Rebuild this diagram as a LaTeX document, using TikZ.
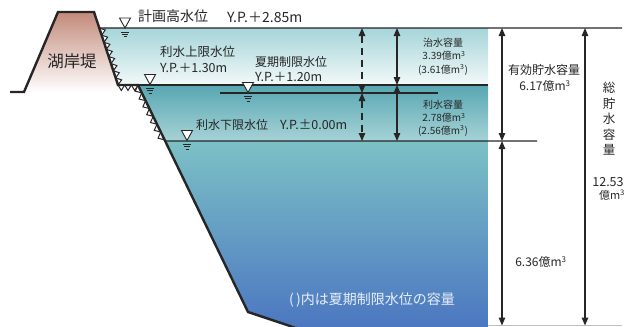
\documentclass[tikz,border=0pt]{standalone}
\usepackage{fontspec}
\setmainfont{Noto Sans CJK JP}
\usetikzlibrary{arrows.meta,calc}
\definecolor{ink}{HTML}{262626}
\definecolor{leveetop}{HTML}{C28A7A}
\definecolor{floodtop}{HTML}{A5D5D9}
\definecolor{floodbot}{HTML}{F3F9F9}
\definecolor{usetop}{HTML}{58A7B2}
\definecolor{usebot}{HTML}{A6D3D7}
\definecolor{deadtop}{HTML}{7CC1C6}
\definecolor{deadbot}{HTML}{4C77C1}
\definecolor{notecol}{HTML}{E8EEF7}
\newcommand\jfs[1]{\fontsize{#1}{#1}\selectfont}
\newcommand\oku{億m\textsuperscript{3}}
\tikzset{
  outline/.style={draw=ink, line width=2.4pt, line join=miter},
  riprap/.style={draw=ink, fill=white, line width=1pt, line join=miter},
  lvl/.style={draw=ink, line width=1.1pt},
  tip/.tip={Triangle[width=6.5pt,length=8pt]},
  dim/.style={draw=ink, line width=1.3pt, tip-tip},
  dimdash/.style={dim, dash pattern=on 7pt off 5pt},
  lbl/.style={text=ink, inner sep=0pt},
  wl/.pic={
    \draw[ink, line width=0.9pt, fill=white] (-5.5,-10) -- (5.5,-10) -- (0,0) -- cycle;
    \draw[ink, line width=0.9pt] (-4,4) -- (4,4) (-2.8,6.3) -- (2.8,6.3) (-1.5,8.5) -- (1.5,8.5);
  }
}
\begin{document}
\begin{tikzpicture}[x=1pt,y=-1pt]
\useasboundingbox (0,0) rectangle (633,327);

% key points of the bank profile
\coordinate (b0) at (10,92);
\coordinate (b1) at (24,92);
\coordinate (b2) at (58,12);
\coordinate (s1) at (94,12);
\coordinate (s2) at (118,85);
\coordinate (s3) at (138,85);
\coordinate (s4) at (248,312);
\coordinate (s5) at (302,330);

% reservoir zones
\shade[top color=floodtop, bottom color=floodbot]
  ($(s1)!0.219!(s2)$) -- (488,28) -- (488,85) -- (s2) -- cycle;
\shade[top color=usetop, bottom color=usebot]
  (s3) -- (488,85) -- (488,141) -- ($(s3)!0.2467!(s4)$) -- cycle;
\shade[top color=deadtop, bottom color=deadbot]
  ($(s3)!0.2467!(s4)$) -- (488,141) -- (488,327) -- (297,327) -- (s4) -- cycle;

% lakeside levee
\shade[top color=leveetop, bottom color=white]
  (b1) -- (b2) -- (s1) -- ($(s1)!1.1!(s2)$) -- cycle;

% riprap along the slope
\foreach \i in {0,...,7}{
  \pgfmathsetmacro\ta{0.22+\i*0.0975}
  \pgfmathsetmacro\tb{\ta+0.0975}
  \pgfmathsetmacro\tm{\ta+0.04875}
  \draw[riprap] ($(s1)!\ta!(s2)$) -- ($(s1)!\tb!(s2)$) -- ($(s1)!\tm!(s2)+(4.8,-1.6)$) -- cycle;
}
\foreach \i in {0,1,2}{
  \pgfmathsetmacro\ta{\i/3}
  \pgfmathsetmacro\tb{\ta+1/3}
  \pgfmathsetmacro\tm{\ta+1/6}
  \draw[riprap] ($(s2)!\ta!(s3)$) -- ($(s2)!\tb!(s3)$) -- ($(s2)!\tm!(s3)+(0,5.5)$) -- cycle;
}
\foreach \i in {0,...,6}{
  \pgfmathsetmacro\ta{\i*0.0345}
  \pgfmathsetmacro\tb{\ta+0.0345}
  \pgfmathsetmacro\tm{\ta+0.01725}
  \draw[riprap] ($(s3)!\ta!(s4)$) -- ($(s3)!\tb!(s4)$) -- ($(s3)!\tm!(s4)+(-4.6,2.3)$) -- cycle;
}

% bank outline
\draw[outline] (b0) -- (b1) -- (b2) -- (s1) -- (s2) -- (s3) -- (s4) -- (s5);

% water levels
\coordinate (h1) at ($(s1)!0.219!(s2)$);
\coordinate (h2) at (622,28);
\coordinate (u2) at (488,85);
\coordinate (c1) at (220,93);
\coordinate (c2) at (438,93);
\coordinate (l1) at ($(s3)!0.2467!(s4)$);
\coordinate (l2) at (537,141);
\coordinate (g1) at (488,325.5);
\coordinate (g2) at (622,325.5);
\draw[lvl] (h1) -- (h2);
\draw[lvl] (s3) -- (u2);
\draw[lvl] (c1) -- (c2);
\draw[lvl] (l1) -- (l2);
\draw[black!25, line width=0.8pt] (g1) -- (g2);

% level marks
\pic at (125,28) {wl};
\pic at (150,84.5) {wl};
\pic at (248,92.5) {wl};
\pic at (187,140.5) {wl};

% dimension arrows
\coordinate (a1) at (362,28);   \coordinate (a2) at (362,93);  \coordinate (a3) at (362,141);
\coordinate (d1) at (397,28);   \coordinate (d2) at (397,85);  \coordinate (d3) at (397,141);
\coordinate (e1) at (502,28);   \coordinate (e2) at (502,141); \coordinate (e3) at (502,325.5);
\coordinate (t1) at (585,28);   \coordinate (t2) at (585,325.5);
\draw[dimdash] (a1) -- (a2);
\draw[dimdash] (a2) -- (a3);
\draw[dim] (d1) -- (d2);
\draw[dim] (d2) -- (d3);
\draw[dim] (e1) -- (e2);
\draw[dim] (e2) -- (e3);
\draw[dim] (t1) -- (t2);

% labels
\node[lbl, font=\jfs{16.5}] (levee) at (72,61) {湖岸堤};
\node[lbl, anchor=west, font=\jfs{14}] (hwl) at (138,16) {計画高水位};
\node[lbl, anchor=west, font=\jfs{14}] (hwlv) at (227,17) {Y.P.＋2.85m};
\node[lbl, anchor=west, font=\jfs{12.5}] (uwl) at (160,52) {利水上限水位};
\node[lbl, anchor=west, font=\jfs{12.5}] (uwlv) at (160,68) {Y.P.＋1.30m};
\node[lbl, anchor=west, font=\jfs{12}] (swl) at (255,62) {夏期制限水位};
\node[lbl, anchor=west, font=\jfs{12.5}] (swlv) at (255,77) {Y.P.＋1.20m};
\node[lbl, anchor=west, font=\jfs{12}] (lwl) at (196,125) {利水下限水位};
\node[lbl, anchor=west, font=\jfs{12.5}] (lwlv) at (280,125) {Y.P.±0.00m};

\node[lbl, font=\jfs{10}] (fc1) at (443,43) {治水容量};
\node[lbl, font=\jfs{10}] (fc2) at (444,56) {3.39\oku};
\node[lbl, font=\jfs{10}] (fc3) at (443,70) {(3.61\oku)};
\node[lbl, font=\jfs{10}] (wc1) at (443,105) {利水容量};
\node[lbl, font=\jfs{10}] (wc2) at (444,118) {2.78\oku};
\node[lbl, font=\jfs{10}] (wc3) at (443,131) {(2.56\oku)};

\node[lbl, font=\jfs{12}] (ec1) at (544,70) {有効貯水容量};
\node[lbl, font=\jfs{12}] (ec2) at (545,86) {6.17\oku};
\node[lbl, font=\jfs{12}] (dc) at (541,262) {6.36\oku};

\foreach \c [count=\k from 0] in {総,貯,水,容,量}
  \node[lbl, font=\jfs{12.5}] (tc\k) at (609,88+15.5*\k) {\c};
\node[lbl, font=\jfs{12.5}] (tcv) at (608,182) {12.53};
\node[lbl, font=\jfs{11}] (tcu) at (612,195) {\oku};

\node[lbl, text=notecol, font=\jfs{14}] (note) at (372,300) {(\,)内は夏期制限水位の容量};
\end{tikzpicture}
\end{document}
